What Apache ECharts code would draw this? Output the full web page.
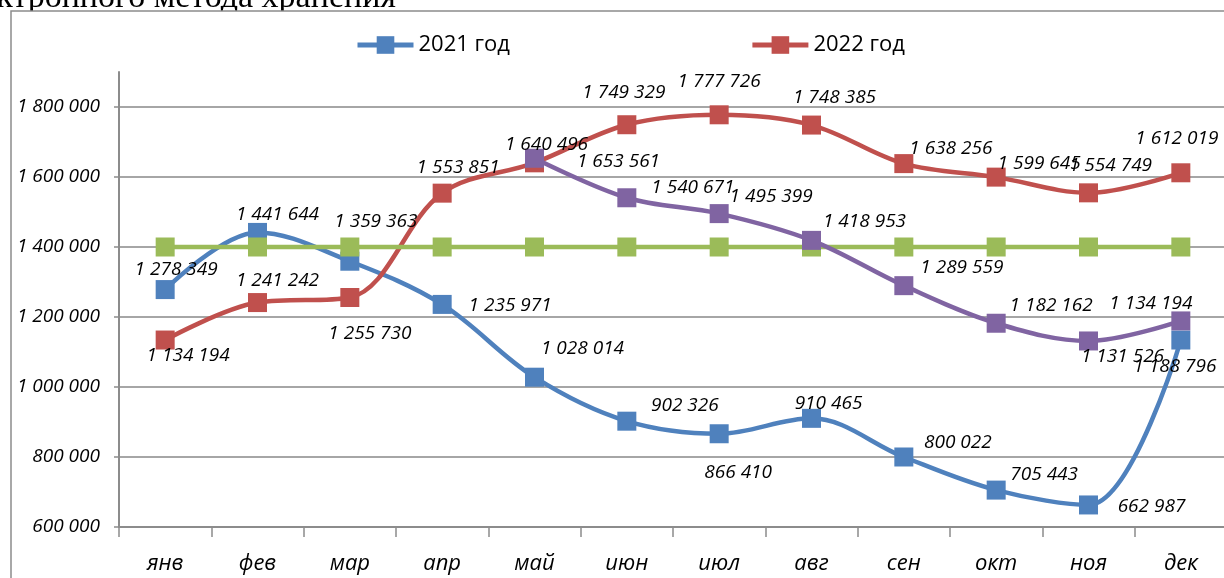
<!DOCTYPE html>
<html>
<head>
<meta charset="utf-8">
<script src="https://cdn.jsdelivr.net/npm/echarts@6/dist/echarts.min.js"></script>
<style>
html,body{margin:0;padding:0;background:#fff;overflow:hidden;}
#chart{width:1236px;height:578px;}
</style>
</head>
<body>
<div id="chart"></div>
<script>
// ---- data ----
const categories = ['янв','фев','мар','апр','май','июн','июл','авг','сен','окт','ноя','дек'];
const series2021 = [1278349,1441644,1359363,1235971,1028014,902326,866410,910465,800022,705443,662987,1134194];
const series2022 = [1134194,1241242,1255730,1553851,1640496,1749329,1777726,1748385,1638256,1599645,1554749,1612019];
const seriesNorm = [1400000,1400000,1400000,1400000,1400000,1400000,1400000,1400000,1400000,1400000,1400000,1400000];
const seriesTrend = [null,null,null,null,1653561,1540671,1495399,1418953,1289559,1182162,1131526,1188796];
const legendNames = ['2021 год','2022 год'];
const captionText = 'электронного метода хранения';

// ---- label placement (pixel offsets from markers) ----
const off2021 = [[11,-20],[20,-18],[26,-40],[68,1],[48,-29],[58,-16],[19,39],[17,-15],[54,-14],[48,-16],[63,2],[-30,-36]];
const off2022 = [[23,16],[20,-22],[20,36],[16,-26],[12,-18],[-3,-32],[0,-33],[23,-27],[47,-15],[43,-14],[22,-27],[-4,-34]];
const offTrend = [null,null,null,null,[84,3],[66,-10],[52,-17],[53,-19],[58,-18],[55,-18],[34,16],[-6,46]];

const fmt = v => String(v).replace(/\B(?=(\d{3})+(?!\d))/g, ' ');
const FONT = '"Open Sans", "Noto Sans", sans-serif';

function withLabels(values, offsets) {
  return values.map((v, i) => {
    if (v === null) return null;
    return { value: v, label: { offset: offsets[i] } };
  });
}

const labelBase = {
  show: true,
  position: 'inside',
  color: '#000',
  fontFamily: FONT,
  fontStyle: 'italic',
  fontSize: 19,
  formatter: p => fmt(p.value)
};

function lineSeries(name, values, color, offsets, showLabels) {
  return {
    name: name,
    type: 'line',
    smooth: 0.35,
    symbol: 'rect',
    symbolSize: 19,
    connectNulls: false,
    data: offsets ? withLabels(values, offsets) : values,
    lineStyle: { color: color, width: 4.5 },
    itemStyle: { color: color },
    label: showLabels ? labelBase : { show: false },
    emphasis: { disabled: true }
  };
}

const chart = echarts.init(document.getElementById('chart'), null, { renderer: 'canvas' });
chart.setOption({
  animation: false,
  backgroundColor: '#fff',
  graphic: [
    {
      type: 'text', z: -20,
      x: 396, y: 15,
      style: {
        text: captionText, fill: '#000',
        font: '34px "Liberation Serif", "DejaVu Serif", serif',
        align: 'right', verticalAlign: 'bottom'
      }
    },
    {
      type: 'rect', z: -10,
      shape: { x: 11, y: 11, width: 1400, height: 800 },
      style: { fill: '#fff', stroke: '#8c8c8c', lineWidth: 1.5 }
    }
  ],
  legend: {
    data: legendNames,
    left: 355,
    top: 34,
    padding: 0,
    itemWidth: 56,
    itemHeight: 22,
    itemGap: 240,
    lineStyle: { width: 5 },
    textStyle: { fontFamily: FONT, fontSize: 22, color: '#000' }
  },
  grid: { left: 119, width: 1108, top: 72, bottom: 51, containLabel: false },
  xAxis: {
    type: 'category',
    data: categories,
    boundaryGap: true,
    axisLine: { lineStyle: { color: '#8c8c8c', width: 2 } },
    axisTick: { show: true, length: 10, inside: false, lineStyle: { color: '#8c8c8c', width: 1.5 } },
    axisLabel: { fontFamily: FONT, fontStyle: 'italic', fontSize: 22, color: '#000', margin: 26 },
    splitLine: { show: false }
  },
  yAxis: {
    type: 'value',
    min: 600000,
    max: 1900000,
    interval: 200000,
    axisLine: { show: true, lineStyle: { color: '#8c8c8c', width: 2 } },
    axisTick: { show: true, length: 5, lineStyle: { color: '#8c8c8c', width: 1.5 } },
    axisLabel: {
      fontFamily: FONT, fontStyle: 'italic', fontSize: 19, color: '#000', margin: 19,
      showMaxLabel: false,
      formatter: v => (v > 1800000 ? '' : fmt(v))
    },
    splitLine: { show: true, showMaxLine: false, lineStyle: { color: '#a6a6a6', width: 2 } }
  },
  series: [
    lineSeries('2021 год', series2021, '#4f81bd', off2021, true),
    lineSeries('2022 год', series2022, '#c0504d', off2022, true),
    lineSeries('норма', seriesNorm, '#9bbb59', null, false),
    lineSeries('тренд', seriesTrend, '#8064a2', offTrend, true)
  ]
});
</script>
</body>
</html>
